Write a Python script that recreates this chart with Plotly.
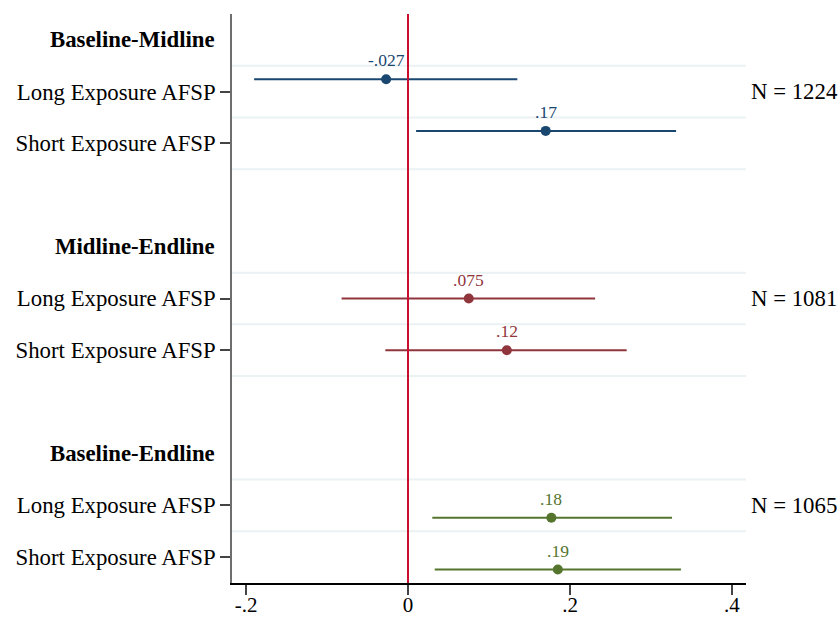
import plotly.graph_objects as go

# ---- data ----
groups = ["Baseline-Midline", "Midline-Endline", "Baseline-Endline"]
rows = ["Long Exposure AFSP", "Short Exposure AFSP"]
coef = [[-0.027, 0.170], [0.075, 0.122], [0.177, 0.185]]
ci_low = [[-0.190, 0.010], [-0.082, -0.028], [0.030, 0.033]]
ci_high = [[0.135, 0.331], [0.231, 0.270], [0.326, 0.337]]
coef_labels = [["-.027", ".17"], [".075", ".12"], [".18", ".19"]]
n_obs = ["N = 1224", "N = 1081", "N = 1065"]
x_ticks = [-0.2, 0, 0.2, 0.4]
x_tick_labels = ["-.2", "0", ".2", ".4"]

colors = ["#1a476f", "#90353b", "#55752f"]
offsets = [-0.24, 0.0, 0.24]
FONT = "Liberation Serif"
FS = 22.8

fig = go.Figure()

tickvals, ticktext = [], []
grid_y = []
for g, name in enumerate(groups):
    base = 4 * g
    ys = [base + 1 + offsets[g], base + 2 + offsets[g]]
    for r in range(2):
        tickvals.append(base + 1 + r)
        ticktext.append(rows[r])
    grid_y += [base + 0.5, base + 1.5, base + 2.5] if g < 2 else [base + 0.5, base + 1.5]
    # CI lines
    for r in range(2):
        fig.add_trace(go.Scatter(
            x=[ci_low[g][r], ci_high[g][r]], y=[ys[r], ys[r]],
            mode="lines", line=dict(color=colors[g], width=2),
            showlegend=False, hoverinfo="skip"))
    fig.add_trace(go.Scatter(
        x=coef[g], y=ys, mode="markers",
        marker=dict(color=colors[g], size=10),
        showlegend=False))
    for r in range(2):
        fig.add_annotation(x=coef[g][r], y=ys[r], xref="x", yref="y",
                           text=coef_labels[g][r], showarrow=False,
                           yshift=19, font=dict(family=FONT, size=17.5, color=colors[g]))
    # group header
    fig.add_annotation(x=0, xref="paper", y=base, yref="y", text="<b>%s</b>" % name,
                       showarrow=False, xanchor="right", xshift=-15,
                       font=dict(family=FONT, size=FS, color="black"))
    # N label
    fig.add_annotation(x=1, xref="paper", y=base + 1, yref="y", text=n_obs[g],
                       showarrow=False, xanchor="left", xshift=3,
                       font=dict(family=FONT, size=FS, color="black"))

# gridlines between coefficients
for gy in grid_y:
    fig.add_shape(type="line", xref="paper", x0=0, x1=1, yref="y", y0=gy, y1=gy,
                  line=dict(color="#eaf2f3", width=2), layer="below")

# reference line at zero
fig.add_shape(type="line", xref="x", x0=0, x1=0, yref="paper", y0=0, y1=1,
              line=dict(color="#c8102e", width=2))

fig.update_layout(
    width=838, height=618,
    margin=dict(l=232, r=92, t=14, b=35),
    plot_bgcolor="white", paper_bgcolor="white",
    font=dict(family=FONT, size=FS, color="black"),
    xaxis=dict(range=[-0.2173, 0.4173], tickvals=x_ticks, ticktext=x_tick_labels,
               showgrid=False, zeroline=False, showline=True, linecolor="black",
               linewidth=1.5, ticks="outside", ticklen=10, tickcolor="#444444",
               tickwidth=1.5, tickfont=dict(family=FONT, size=21), automargin=False,
               ticklabelstandoff=-8),
    yaxis=dict(range=[10.5, -0.5], tickvals=tickvals, ticktext=ticktext,
               showgrid=False, zeroline=False, showline=True, linecolor="#6e6e6e",
               linewidth=1.5, ticks="outside", ticklen=10, tickcolor="#444444",
               tickwidth=1.5, tickfont=dict(family=FONT, size=FS), automargin=False),
)

fig.write_html(
    "out.html",
    config={"displayModeBar": False},
    post_script="document.body.style.margin='0';document.body.style.overflow='hidden';",
)
